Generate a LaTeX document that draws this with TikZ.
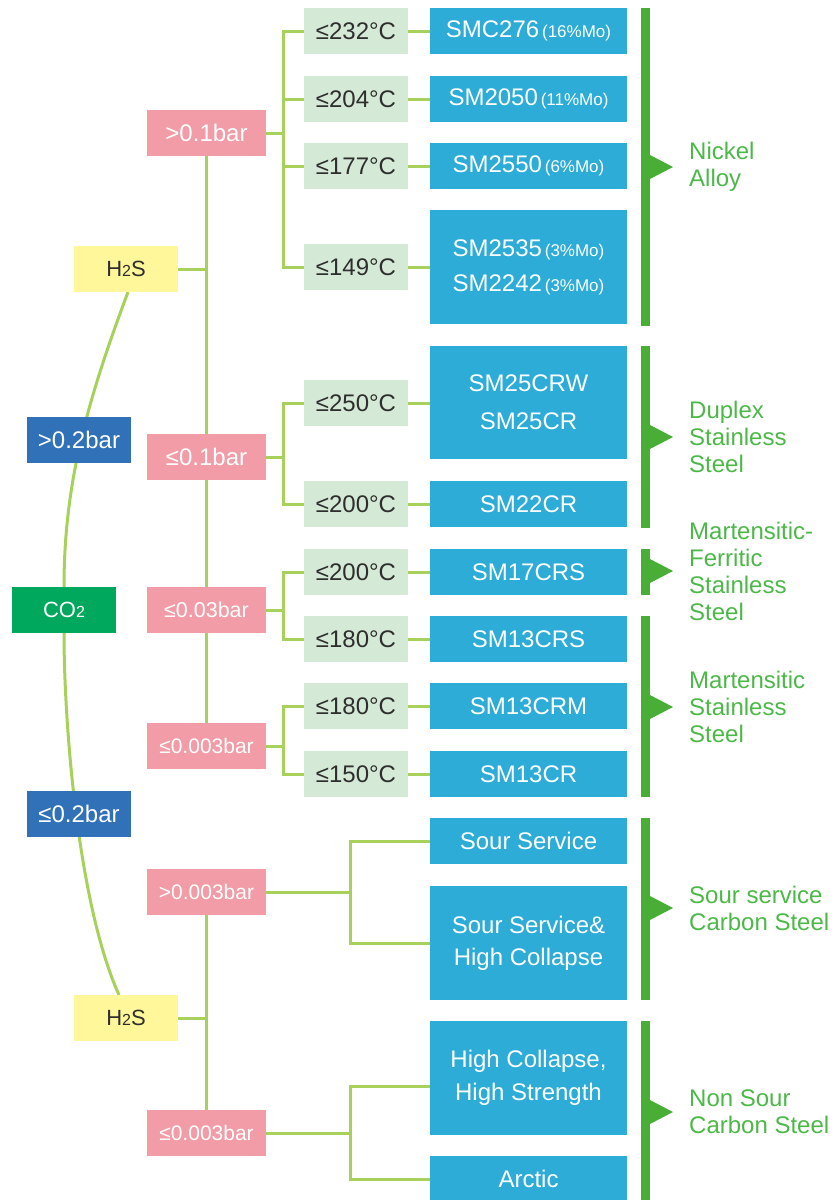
\documentclass[tikz,border=0pt]{standalone}
\usepackage{fontspec}
\setmainfont{Liberation Sans}
\usetikzlibrary{backgrounds}
\definecolor{lnk}{HTML}{A8D15B}
\definecolor{pinkb}{HTML}{F19CA6}
\definecolor{tempb}{HTML}{D5EAD6}
\definecolor{skyb}{HTML}{2CACD7}
\definecolor{navyb}{HTML}{3071B8}
\definecolor{co2g}{HTML}{00A85D}
\definecolor{yelb}{HTML}{FFF799}
\definecolor{barg}{HTML}{48AE36}
\definecolor{txtg}{HTML}{4CB848}
\definecolor{darkt}{HTML}{2E2E2E}
\newcommand\moP[1]{{\fontsize{17}{17}\selectfont\,(#1)}}
\newcommand\subt[1]{{\fontsize{16}{16}\selectfont #1}}
\tikzset{
  box/.style={inner sep=0pt, outer sep=0pt, anchor=north west, align=center,
    font=\fontsize{24}{27}\selectfont},
  tempbox/.style={box, fill=tempb, text=darkt, minimum width=104pt, minimum height=46pt},
  pinkbox/.style={box, fill=pinkb, text=white, minimum width=119pt, minimum height=46pt,
    font=\fontsize{24}{27}\selectfont},
  skybox/.style={box, fill=skyb, text=white, minimum width=197pt, minimum height=46pt},
  navybox/.style={box, fill=navyb, text=white, minimum width=104pt, minimum height=46pt,
    font=\fontsize{24}{27}\selectfont},
  co2box/.style={box, fill=co2g, text=white, minimum width=104pt, minimum height=46pt,
    font=\fontsize{22}{26}\selectfont},
  yelbox/.style={box, fill=yelb, text=darkt, minimum width=104pt, minimum height=46pt,
    font=\fontsize{22}{26}\selectfont},
  conn/.style={draw=lnk, line width=3pt},
  catlab/.style={anchor=west, inner sep=0pt, align=left, text=txtg,
    font=\fontsize{24}{27}\selectfont},
  barfill/.style={fill=barg}
}
\begin{document}
\begin{tikzpicture}[x=1pt, y=-1pt]
\useasboundingbox (0,0) rectangle (837,1200);
\begin{scope}
\clip (0,0) rectangle (837,1200);
% left column
\node[yelbox] (h1) at (74,246) {H\subt{2}S};
\node[navybox] (gt2) at (27,417) {>0.2bar};
\node[co2box] (co2) at (12,587) {CO\subt{2}};
\node[navybox] (le2) at (27,791) {≤0.2bar};
\node[yelbox] (h2) at (74,995) {H\subt{2}S};
% pink
\node[pinkbox] (p1) at (147,110) {>0.1bar};
\node[pinkbox] (p2) at (147,434) {≤0.1bar};
\node[pinkbox, font=\fontsize{21.5}{24}\selectfont] (p3) at (147,587) {≤0.03bar};
\node[pinkbox, font=\fontsize{21}{24}\selectfont] (p4) at (147,723) {≤0.003bar};
\node[pinkbox, font=\fontsize{21}{24}\selectfont] (p5) at (147,869) {>0.003bar};
\node[pinkbox, font=\fontsize{21}{24}\selectfont] (p6) at (147,1110) {≤0.003bar};
% temperatures
\node[tempbox] (t1) at (304,8) {≤232°C};
\node[tempbox] (t2) at (304,76) {≤204°C};
\node[tempbox] (t3) at (304,143) {≤177°C};
\node[tempbox] (t4) at (304,244) {≤149°C};
\node[tempbox] (t5) at (304,380) {≤250°C};
\node[tempbox] (t6) at (304,481) {≤200°C};
\node[tempbox] (t7) at (304,549) {≤200°C};
\node[tempbox] (t8) at (304,616) {≤180°C};
\node[tempbox] (t9) at (304,683) {≤180°C};
\node[tempbox] (t10) at (304,751) {≤150°C};
% products
\node[skybox] (s1) at (430,8) {SMC276\moP{16\%Mo}};
\node[skybox] (s2) at (430,76) {SM2050\moP{11\%Mo}};
\node[skybox] (s3) at (430,143) {SM2550\moP{6\%Mo}};
\node[skybox, minimum height=114pt, font=\fontsize{24}{35}\selectfont] (s4) at (430,210) {SM2535\moP{3\%Mo}\\SM2242\moP{3\%Mo}};
\node[skybox, minimum height=113pt, font=\fontsize{24}{38}\selectfont] (s5) at (430,346) {SM25CRW\\SM25CR};
\node[skybox] (s6) at (430,481) {SM22CR};
\node[skybox] (s7) at (430,549) {SM17CRS};
\node[skybox] (s8) at (430,616) {SM13CRS};
\node[skybox] (s9) at (430,683) {SM13CRM};
\node[skybox] (s10) at (430,751) {SM13CR};
\node[skybox] (s11) at (430,818) {Sour Service};
\node[skybox, minimum height=114pt, font=\fontsize{24}{32}\selectfont] (s12) at (430,886) {Sour Service\&\\High Collapse};
\node[skybox, minimum height=114pt, font=\fontsize{24}{33}\selectfont] (s13) at (430,1021) {High Collapse,\\High Strength};
\node[skybox] (s14) at (430,1156) {Arctic};
% connectors
\begin{scope}[on background layer]
\draw[conn] ([xshift=2pt]h1.south) .. controls (88,399) and (64,482) .. (co2.north);
\draw[conn] (co2.south) .. controls (64,724) and (78,904) .. ([xshift=-7pt]h2.north);
\end{scope}
\draw[conn] (p1.south) -- (p2.north);
\draw[conn] (p2.south) -- (p3.north);
\draw[conn] (p3.south) -- (p4.north);
\draw[conn] (h1.east) -- (h1.east -| p1.south);
\draw[conn] (p5.south) -- (p6.north);
\draw[conn] (h2.east) -- (h2.east -| p5.south);
\foreach \t in {t1,t2,t3,t4} \draw[conn] (\t.west) -- ++(-21,0) |- (p1.east);
\foreach \t in {t5,t6} \draw[conn] (\t.west) -- ++(-21,0) |- (p2.east);
\foreach \t in {t7,t8} \draw[conn] (\t.west) -- ++(-21,0) |- (p3.east);
\foreach \t in {t9,t10} \draw[conn] (\t.west) -- ++(-21,0) |- (p4.east);
\foreach \t/\s in {t1/s1,t2/s2,t3/s3,t4/s4,t5/s5,t6/s6,t7/s7,t8/s8,t9/s9,t10/s10}
  \draw[conn] (\t.east) -- (\t.east -| \s.west);
\draw[conn] (s11.west) -- ++(-80,0) |- (p5.east);
\draw[conn] (s12.west) -- ++(-80,0) |- (p5.east);
\draw[conn] ([yshift=-8pt]s13.west) -- ++(-80,0) |- (p6.east);
\draw[conn] (s14.west) -- ++(-80,0) |- (p6.east);
% category bars
\foreach \a/\b/\m in {8/326/167, 346/528/437, 549/595/571, 616/797/707, 818/1000/908, 1021/1205/1112}{
  \fill[barfill] (641,\a) rectangle (650,\b);
  \fill[barfill] (649,\m-12.5) -- (673,\m) -- (649,\m+12.5) -- cycle;
}
\node[catlab] (c1) at (689,167) {Nickel\\Alloy};
\node[catlab] (c2) at (689,437) {Duplex\\Stainless\\Steel};
\node[catlab] (c3) at (689,571) {Martensitic-\\Ferritic\\Stainless\\Steel};
\node[catlab] (c4) at (689,707) {Martensitic\\Stainless\\Steel};
\node[catlab] (c5) at (689,908) {Sour service\\Carbon Steel};
\node[catlab] (c6) at (689,1112) {Non Sour\\Carbon Steel};
\end{scope}
\end{tikzpicture}
\end{document}
